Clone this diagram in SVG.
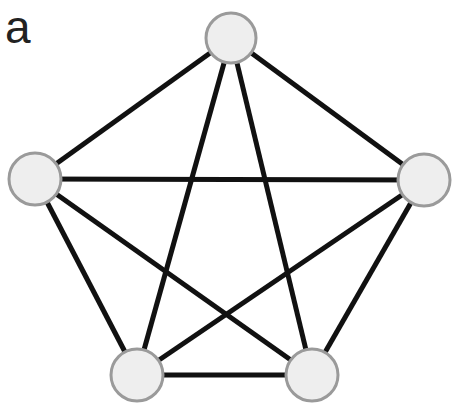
<svg xmlns="http://www.w3.org/2000/svg" width="452" height="405" viewBox="0 0 452 405">
<style>
.node{fill:#eeeeee;stroke:#9a9a9a;stroke-width:3}
.edge{stroke:#111;stroke-width:5;fill:none}
.lbl{font-family:"Liberation Sans",Arial,sans-serif;font-size:46px;fill:#222}
</style>
<rect width="452" height="405" fill="#fff"/>
<text class="lbl" x="5" y="43">a</text>
<g id="edges">
<line class="edge" x1="231" y1="38" x2="35" y2="179"/>
<line class="edge" x1="231" y1="38" x2="424" y2="180"/>
<line class="edge" x1="231" y1="38" x2="137" y2="375"/>
<line class="edge" x1="231" y1="38" x2="312" y2="375"/>
<line class="edge" x1="35" y1="179" x2="424" y2="180"/>
<line class="edge" x1="35" y1="179" x2="137" y2="375"/>
<line class="edge" x1="35" y1="179" x2="312" y2="375"/>
<line class="edge" x1="424" y1="180" x2="137" y2="375"/>
<line class="edge" x1="424" y1="180" x2="312" y2="375"/>
<line class="edge" x1="137" y1="375" x2="312" y2="375"/>
</g>
<g id="n1"><circle class="node" cx="231" cy="38" r="25"/></g>
<g id="n2"><circle class="node" cx="35" cy="179" r="26"/></g>
<g id="n3"><circle class="node" cx="424" cy="180" r="26"/></g>
<g id="n4"><circle class="node" cx="137" cy="375" r="26"/></g>
<g id="n5"><circle class="node" cx="312" cy="375" r="26"/></g>
</svg>
